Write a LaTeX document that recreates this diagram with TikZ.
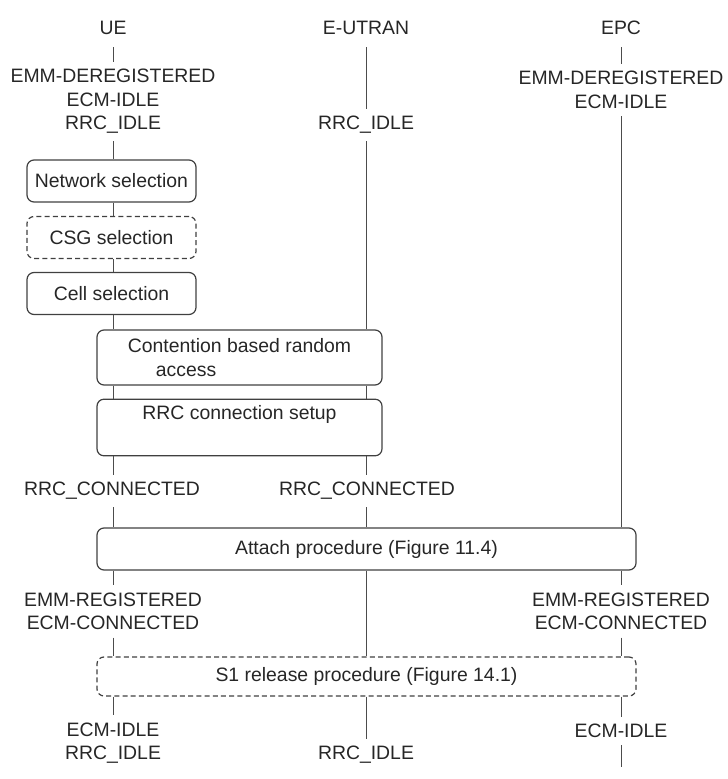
\documentclass[tikz,border=0pt]{standalone}
\usepackage{fontspec}
\setmainfont{Liberation Sans}
\usetikzlibrary{positioning,calc}
\newcommand{\diafont}{\fontsize{9.7}{11.75}\selectfont}
\tikzset{
  % --- boxes ------------------------------------------------------------
  base/.style    ={rounded corners=3.5pt, draw=black!75, line width=0.6pt,
                   align=center, inner sep=3pt, font=\diafont, text=black!85},
  block/.style   ={base},
  optblock/.style={base, dash pattern=on 2.5pt off 1.6pt},   % optional step
  % --- texts ------------------------------------------------------------
  state/.style   ={align=center, inner xsep=2pt, inner ysep=3.5pt,
                   font=\diafont, text=black!85},
  hdr/.style     ={state, inner ysep=6pt},
  % --- lifelines --------------------------------------------------------
  life/.style    ={draw=black!70, line width=0.5pt},
}

\begin{document}
\begin{tikzpicture}[x=0.5pt, y=-0.5pt]
  \useasboundingbox (0,0) rectangle (727,779);

  % ===================== entities =====================
  \node[hdr] (ue)  at (113,28) {UE};
  \node[hdr] (enb) at (366,28) {E-UTRAN};
  \node[hdr] (epc) at (621,28) {EPC};

  % ===================== initial states =====================
  \node[state] (ueIdle)  at (113,101.5) {EMM-DEREGISTERED\\ECM-IDLE\\RRC\_IDLE};
  \node[state] (enbIdle) at (366,125)   {RRC\_IDLE};
  \node[state] (epcIdle) at (621,90)    {EMM-DEREGISTERED\\ECM-IDLE};

  % ===================== UE selection steps =====================
  \node[block, minimum width=84.5pt, minimum height=21pt] (netsel) at (111.5,181)
    {Network selection};
  \node[optblock, minimum width=84.5pt, minimum height=21pt] (csgsel) at (111.5,237.5)
    {CSG selection};
  \node[block, minimum width=84.5pt, minimum height=21pt] (cellsel) at (111.5,293.5)
    {Cell selection};

  % ===================== UE <-> E-UTRAN =====================
  \node[block, minimum width=142.5pt, minimum height=27.5pt, align=left] (rach) at (239.5,357.5)
    {Contention based random\\\hspace*{14pt}access};
  \node[block, minimum width=142.5pt, minimum height=27.5pt] (rrcsetup) at (239.5,427.5)
    {RRC connection setup\\\strut};
  \node[state] (ueConn)  at (112,491) {RRC\_CONNECTED};
  \node[state] (enbConn) at (367,491) {RRC\_CONNECTED};

  % ===================== attach =====================
  \node[block, minimum width=269.5pt, minimum height=21pt] (attach) at (366.5,549)
    {Attach procedure (Figure 11.4)};
  \node[state] (ueReg)  at (113,611.5) {EMM-REGISTERED\\ECM-CONNECTED};
  \node[state] (epcReg) at (621,611.5) {EMM-REGISTERED\\ECM-CONNECTED};

  % ===================== S1 release =====================
  \node[optblock, minimum width=269.5pt, minimum height=19.5pt] (s1rel) at (366.5,676.5)
    {S1 release procedure (Figure 14.1)};
  \node[state] (ueRel)  at (113,743) {ECM-IDLE\\RRC\_IDLE};
  \node[state] (enbRel) at (366,755) {RRC\_IDLE};
  \node[state] (epcRel) at (621,731) {ECM-IDLE};
  \coordinate (epcEnd) at (621,767);

  % ===================== lifelines =====================
  % UE
  \draw[life] (ue.south) -- (ue |- ueIdle.north);
  \draw[life] (ue |- ueIdle.south) -- (ue |- netsel.north);
  \draw[life] (ue |- netsel.south) -- (ue |- csgsel.north);
  \draw[life] (ue |- csgsel.south) -- (ue |- cellsel.north);
  \draw[life] (ue |- cellsel.south) -- (ue |- rach.north);
  \draw[life] (ue |- rach.south) -- (ue |- rrcsetup.north);
  \draw[life] (ue |- rrcsetup.south) -- (ue |- ueConn.north);
  \draw[life] (ue |- ueConn.south) -- (ue |- attach.north);
  \draw[life] (ue |- attach.south) -- (ue |- ueReg.north);
  \draw[life] (ue |- ueReg.south) -- (ue |- s1rel.north);
  \draw[life] (ue |- s1rel.south) -- (ue |- ueRel.north);
  % E-UTRAN
  \draw[life] (enb.south) -- (enb |- enbIdle.north);
  \draw[life] (enb |- enbIdle.south) -- (enb |- rach.north);
  \draw[life] (enb |- rach.south) -- (enb |- rrcsetup.north);
  \draw[life] (enb |- rrcsetup.south) -- (enb |- enbConn.north);
  \draw[life] (enb |- enbConn.south) -- (enb |- attach.north);
  \draw[life] (enb |- attach.south) -- (enb |- s1rel.north);
  \draw[life] (enb |- s1rel.south) -- (enb |- enbRel.north);
  % EPC
  \draw[life] (epc.south) -- (epc |- epcIdle.north);
  \draw[life] (epc |- epcIdle.south) -- (epc |- attach.north);
  \draw[life] (epc |- attach.south) -- (epc |- epcReg.north);
  \draw[life] (epc |- epcReg.south) -- (epc |- s1rel.north);
  \draw[life] (epc |- s1rel.south) -- (epc |- epcRel.north);
  \draw[life] (epc |- epcRel.south) -- (epcEnd);

\end{tikzpicture}
\end{document}
